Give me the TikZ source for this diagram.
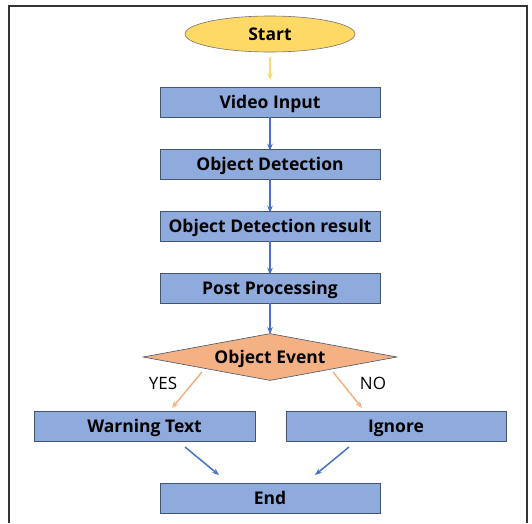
\documentclass[tikz,border=0pt]{standalone}
\usepackage{fontspec}
\setmainfont{Open Sans}
\usetikzlibrary{shapes.geometric,arrows.meta}
\definecolor{boxfill}{HTML}{8FAADC}
\definecolor{boxline}{HTML}{44546A}
\definecolor{arrblue}{HTML}{4472C4}
\definecolor{yel}{HTML}{FFD966}
\definecolor{yelarr}{HTML}{FFD966}
\definecolor{orng}{HTML}{F4B183}
\begin{document}
\begin{tikzpicture}[x=1pt,y=-1pt,
  bigtext/.style={font=\fontsize{17.5}{19}\selectfont\bfseries},
  proc/.style={rectangle,draw=boxline,line width=0.6pt,fill=boxfill,minimum width=220pt,minimum height=30pt,inner sep=0pt,bigtext,text depth=0pt,text height=13pt},
  arr/.style={-{Stealth[length=7pt,width=5.5pt]},line width=1.5pt,draw=arrblue},
  oarr/.style={-{Stealth[length=7pt,width=5.5pt]},line width=1.5pt,draw=orng},
  lbl/.style={font=\fontsize{17}{19}\selectfont}]
\useasboundingbox (0,0) rectangle (532,523);
\draw[line width=1.5pt,draw=black!80] (9,523) -- (9,6) -- (527,6) -- (527,523);
\node[ellipse,draw=black!55,line width=0.6pt,fill=yel,minimum width=170pt,minimum height=36pt,inner sep=0pt,bigtext,text depth=0pt,text height=13pt] (start) at (270,34) {Start};
\node[proc] (vi) at (270,102) {Video Input};
\node[proc] (od) at (270,164) {Object Detection};
\node[proc] (odr) at (270,226) {Object Detection result};
\node[proc] (pp) at (270,288) {Post Processing};
\node[diamond,draw=boxline,line width=0.6pt,fill=orng,minimum width=254pt,minimum height=47pt,inner sep=0pt,aspect=5.4,bigtext,text depth=0pt,text height=13pt] (ev) at (270,357) {Object Event};
\node[proc,minimum width=221pt] (wt) at (144.5,426) {Warning Text};
\node[proc] (ig) at (396,426) {Ignore};
\node[proc] (end) at (270,498) {End};
\node[lbl] (yes) at (163,383) {YES};
\node[lbl] (no) at (373,383) {NO};
\coordinate (s1) at (270,57);
\coordinate (e1) at (270,80);
\draw[-{Stealth[length=7pt,width=5.5pt]},line width=1.5pt,draw=yelarr] (s1) -- (e1);
\draw[arr] (vi.south) -- ([yshift=-2pt]od.north);
\draw[arr] (od.south) -- ([yshift=-2pt]odr.north);
\draw[arr] (odr.south) -- ([yshift=-2pt]pp.north);
\draw[arr] (pp.south) -- ([yshift=-1pt]ev.north);
\coordinate (y1) at (202,372);
\coordinate (y2) at (172,408);
\coordinate (n1) at (333,372);
\coordinate (n2) at (362,408);
\draw[oarr] (y1) -- (y2);
\draw[oarr] (n1) -- (n2);
\coordinate (w1) at (185,447);
\coordinate (w2) at (219,475);
\coordinate (i1) at (349,447);
\coordinate (i2) at (315,475);
\draw[arr] (w1) -- (w2);
\draw[arr] (i1) -- (i2);
\end{tikzpicture}
\end{document}
